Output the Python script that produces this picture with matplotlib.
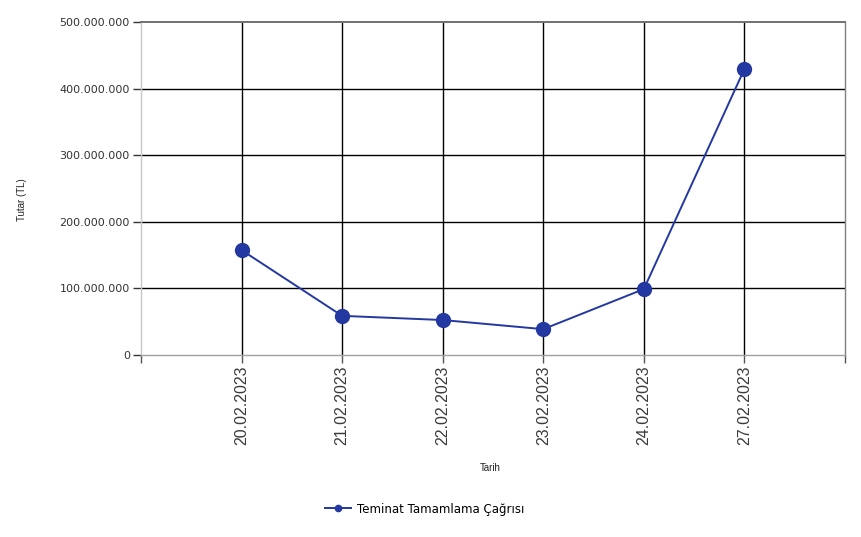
import matplotlib.pyplot as plt
from matplotlib.ticker import FuncFormatter, FixedLocator

# values
dates = ["20.02.2023", "21.02.2023", "22.02.2023", "23.02.2023", "24.02.2023", "27.02.2023"]
amounts = [157_500_000, 58_800_000, 52_500_000, 38_800_000, 99_000_000, 429_500_000]
series_name = "Teminat Tamamlama Çağrısı"
y_ticks = [0, 100_000_000, 200_000_000, 300_000_000, 400_000_000, 500_000_000]

LINE = "#2338a0"

fig = plt.figure(figsize=(8.62, 5.37), dpi=100)
ax = fig.add_axes([141 / 862, 1 - 355 / 537, (845 - 141) / 862, (355 - 22) / 537])

x = list(range(len(dates)))
line, = ax.plot(x, amounts, "-o", color=LINE, lw=1.4, ms=10, zorder=3,
                label=series_name)

ax.set_xlim(-1, len(dates))
ax.set_ylim(0, 500_000_000)

# category ticks with the empty slots at both ends
ax.xaxis.set_major_locator(FixedLocator(list(range(-1, len(dates) + 1))))
ax.set_xticklabels([""] + dates + [""], rotation=90, fontsize=11.5,
                   family="Liberation Sans", color="#3a3a3a")
ax.set_yticks(y_ticks)
ax.yaxis.set_major_formatter(FuncFormatter(lambda v, _: f"{int(v):,}".replace(",", ".")))
ax.tick_params(axis="y", labelsize=8, colors="#333333", length=6, width=1, pad=2)
ax.tick_params(axis="x", length=6, width=1, color="#555555", pad=1.5)

# grid: vertical at categories, horizontal at 100M steps
for xi in x:
    ax.axvline(xi, color="black", lw=1, zorder=1)
for yv in y_ticks[1:-1]:
    ax.axhline(yv, color="black", lw=1, zorder=1)

ax.spines["left"].set_color("#c8c8c8")
ax.spines["bottom"].set_color("#a0a0a0")
ax.spines["top"].set_color("#707070")
ax.spines["right"].set_color("#808080")
for s in ax.spines.values():
    s.set_linewidth(1)
ax.spines["top"].set_linewidth(1.4)

fig.text(490 / 862, 1 - 468 / 537, "Tarih", fontsize=7, family="Liberation Sans",
         ha="center", va="center", color="#222222")
fig.text(22 / 862, 1 - 200 / 537, "Tutar (TL)", fontsize=7, family="Liberation Sans",
         rotation=90, ha="center", va="center", color="#222222")

fig.legend(handles=[line], loc="center", bbox_to_anchor=(425 / 862, 1 - 509 / 537),
           frameon=False, fontsize=8.5, markerscale=0.45, handlelength=2.2,
           handletextpad=0.5)

fig.savefig("out.png", dpi=100)
